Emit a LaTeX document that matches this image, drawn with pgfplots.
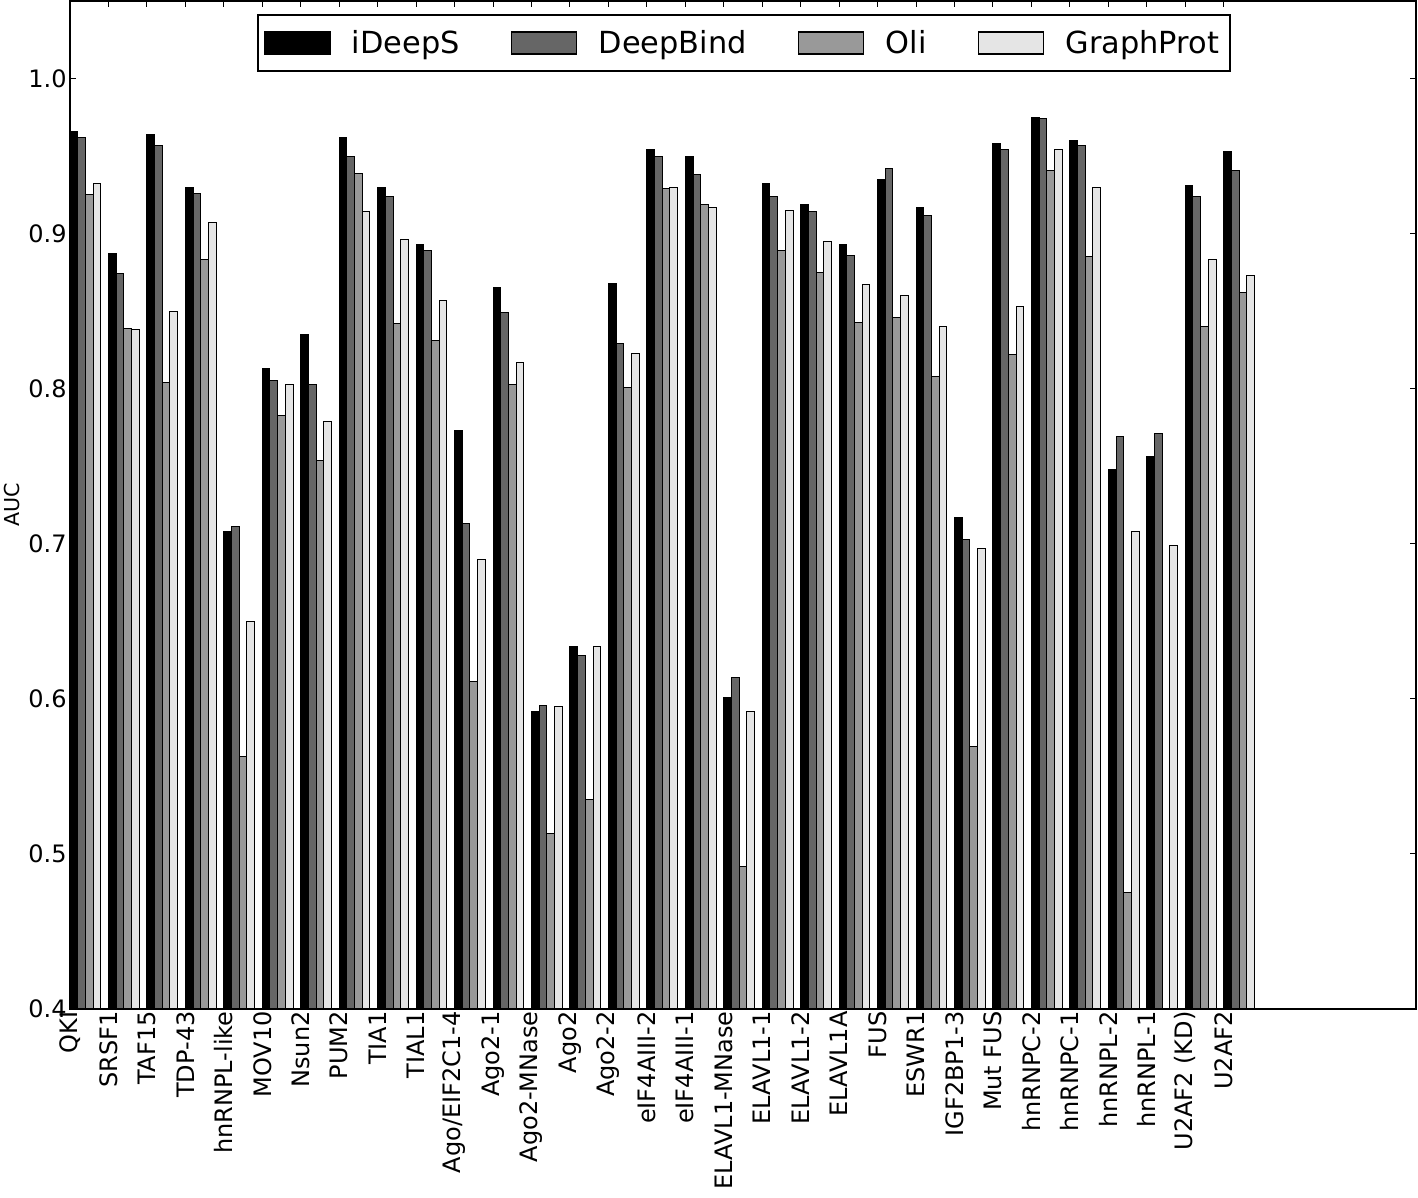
\documentclass[border=0pt]{standalone}
\usepackage{fontspec}
\setmainfont{DejaVu Sans}
\usepackage{pgfplots}
\usepackage{pgfplotstable}
\pgfplotsset{compat=1.18}
\definecolor{cA}{gray}{0.0}
\definecolor{cB}{gray}{0.4}
\definecolor{cC}{gray}{0.6}
\definecolor{cD}{gray}{0.9}
\pgfplotstableread{
x ideeps deepbind oli graphprot
0 0.966 0.962 0.925 0.932
1 0.887 0.874 0.839 0.838
2 0.964 0.957 0.804 0.850
3 0.930 0.926 0.883 0.907
4 0.708 0.711 0.563 0.650
5 0.813 0.805 0.783 0.803
6 0.835 0.803 0.754 0.779
7 0.962 0.950 0.939 0.914
8 0.930 0.924 0.842 0.896
9 0.893 0.889 0.831 0.857
10 0.773 0.713 0.611 0.690
11 0.865 0.849 0.803 0.817
12 0.592 0.596 0.513 0.595
13 0.634 0.628 0.535 0.634
14 0.868 0.829 0.801 0.823
15 0.954 0.950 0.929 0.930
16 0.950 0.938 0.919 0.917
17 0.601 0.614 0.492 0.592
18 0.932 0.924 0.889 0.915
19 0.919 0.914 0.875 0.895
20 0.893 0.886 0.843 0.867
21 0.935 0.942 0.846 0.860
22 0.917 0.912 0.808 0.840
23 0.717 0.703 0.569 0.697
24 0.958 0.954 0.822 0.853
25 0.975 0.974 0.941 0.954
26 0.960 0.957 0.885 0.930
27 0.748 0.769 0.475 0.708
28 0.756 0.771 nan 0.699
29 0.931 0.924 0.840 0.883
30 0.953 0.941 0.862 0.873
}\data
\pgfplotsset{
  mybar/.style={ybar, bar width=0.2, bar shift=#1, draw=black, line width=0.5pt,
    legend image code/.code={\path[draw=none, fill=none] (-3.5pt,0) (38pt,0);\draw[##1, line width=0.6pt] (0pt,-5.5pt) rectangle (32.5pt,5.5pt);}},
}
\begin{document}
\begin{tikzpicture}
\begin{axis}[
  at={(0,0)}, anchor=south west,
  width=673pt, height=504pt, scale only axis,
  xmin=0, xmax=35, ymin=0.4, ymax=1.05,
  xtick={0,...,30},
  xticklabels={QKI,SRSF1,TAF15,TDP-43,hnRNPL-like,MOV10,Nsun2,PUM2,TIA1,TIAL1,Ago/EIF2C1-4,Ago2-1,Ago2-MNase,Ago2,Ago2-2,eIF4AIII-2,eIF4AIII-1,ELAVL1-MNase,ELAVL1-1,ELAVL1-2,ELAVL1A,FUS,ESWR1,IGF2BP1-3,Mut FUS,hnRNPC-2,hnRNPC-1,hnRNPL-2,hnRNPL-1,U2AF2 (KD),U2AF2},
  xticklabel style={rotate=90, anchor=east, inner sep=1pt, font=\fontsize{12}{14}\selectfont},
  ytick={0.4,0.5,0.6,0.7,0.8,0.9,1.0},
  yticklabel style={/pgf/number format/fixed, /pgf/number format/fixed zerofill, /pgf/number format/precision=1, font=\fontsize{12}{14}\selectfont, inner sep=1.5pt},
  /pgf/number format/assume math mode=true,
  tick align=inside, major tick length=3pt,
  tick style={black, line width=0.5pt},
  axis line style={line width=1pt},
  ylabel={AUC},
  ylabel style={at={(axis description cs:-0.0371,0.5)}, anchor=south, inner sep=0pt, font=\fontsize{10.3}{12}\selectfont},
  legend columns=4,
  legend style={at={(0.5007,0.987)}, anchor=north, draw=black, line width=0.8pt,
    inner xsep=0pt, inner ysep=5.5pt,
    nodes={inner xsep=5.5pt, inner ysep=2pt},
    font=\fontsize{15.2}{18}\selectfont,
    /tikz/every even column/.append style={column sep=17pt}},
]
\addplot[mybar=0.1, fill=cA] table[x=x, y=ideeps] {\data};
\addplot[mybar=0.3, fill=cB] table[x=x, y=deepbind] {\data};
\addplot[mybar=0.5, fill=cC] table[x=x, y=oli] {\data};
\addplot[mybar=0.7, fill=cD] table[x=x, y=graphprot] {\data};
\legend{iDeepS,DeepBind,Oli,GraphProt}
\end{axis}
\pgfresetboundingbox
\path (-35pt,-94.5pt) rectangle (674pt,504.5pt);
\end{tikzpicture}
\end{document}
